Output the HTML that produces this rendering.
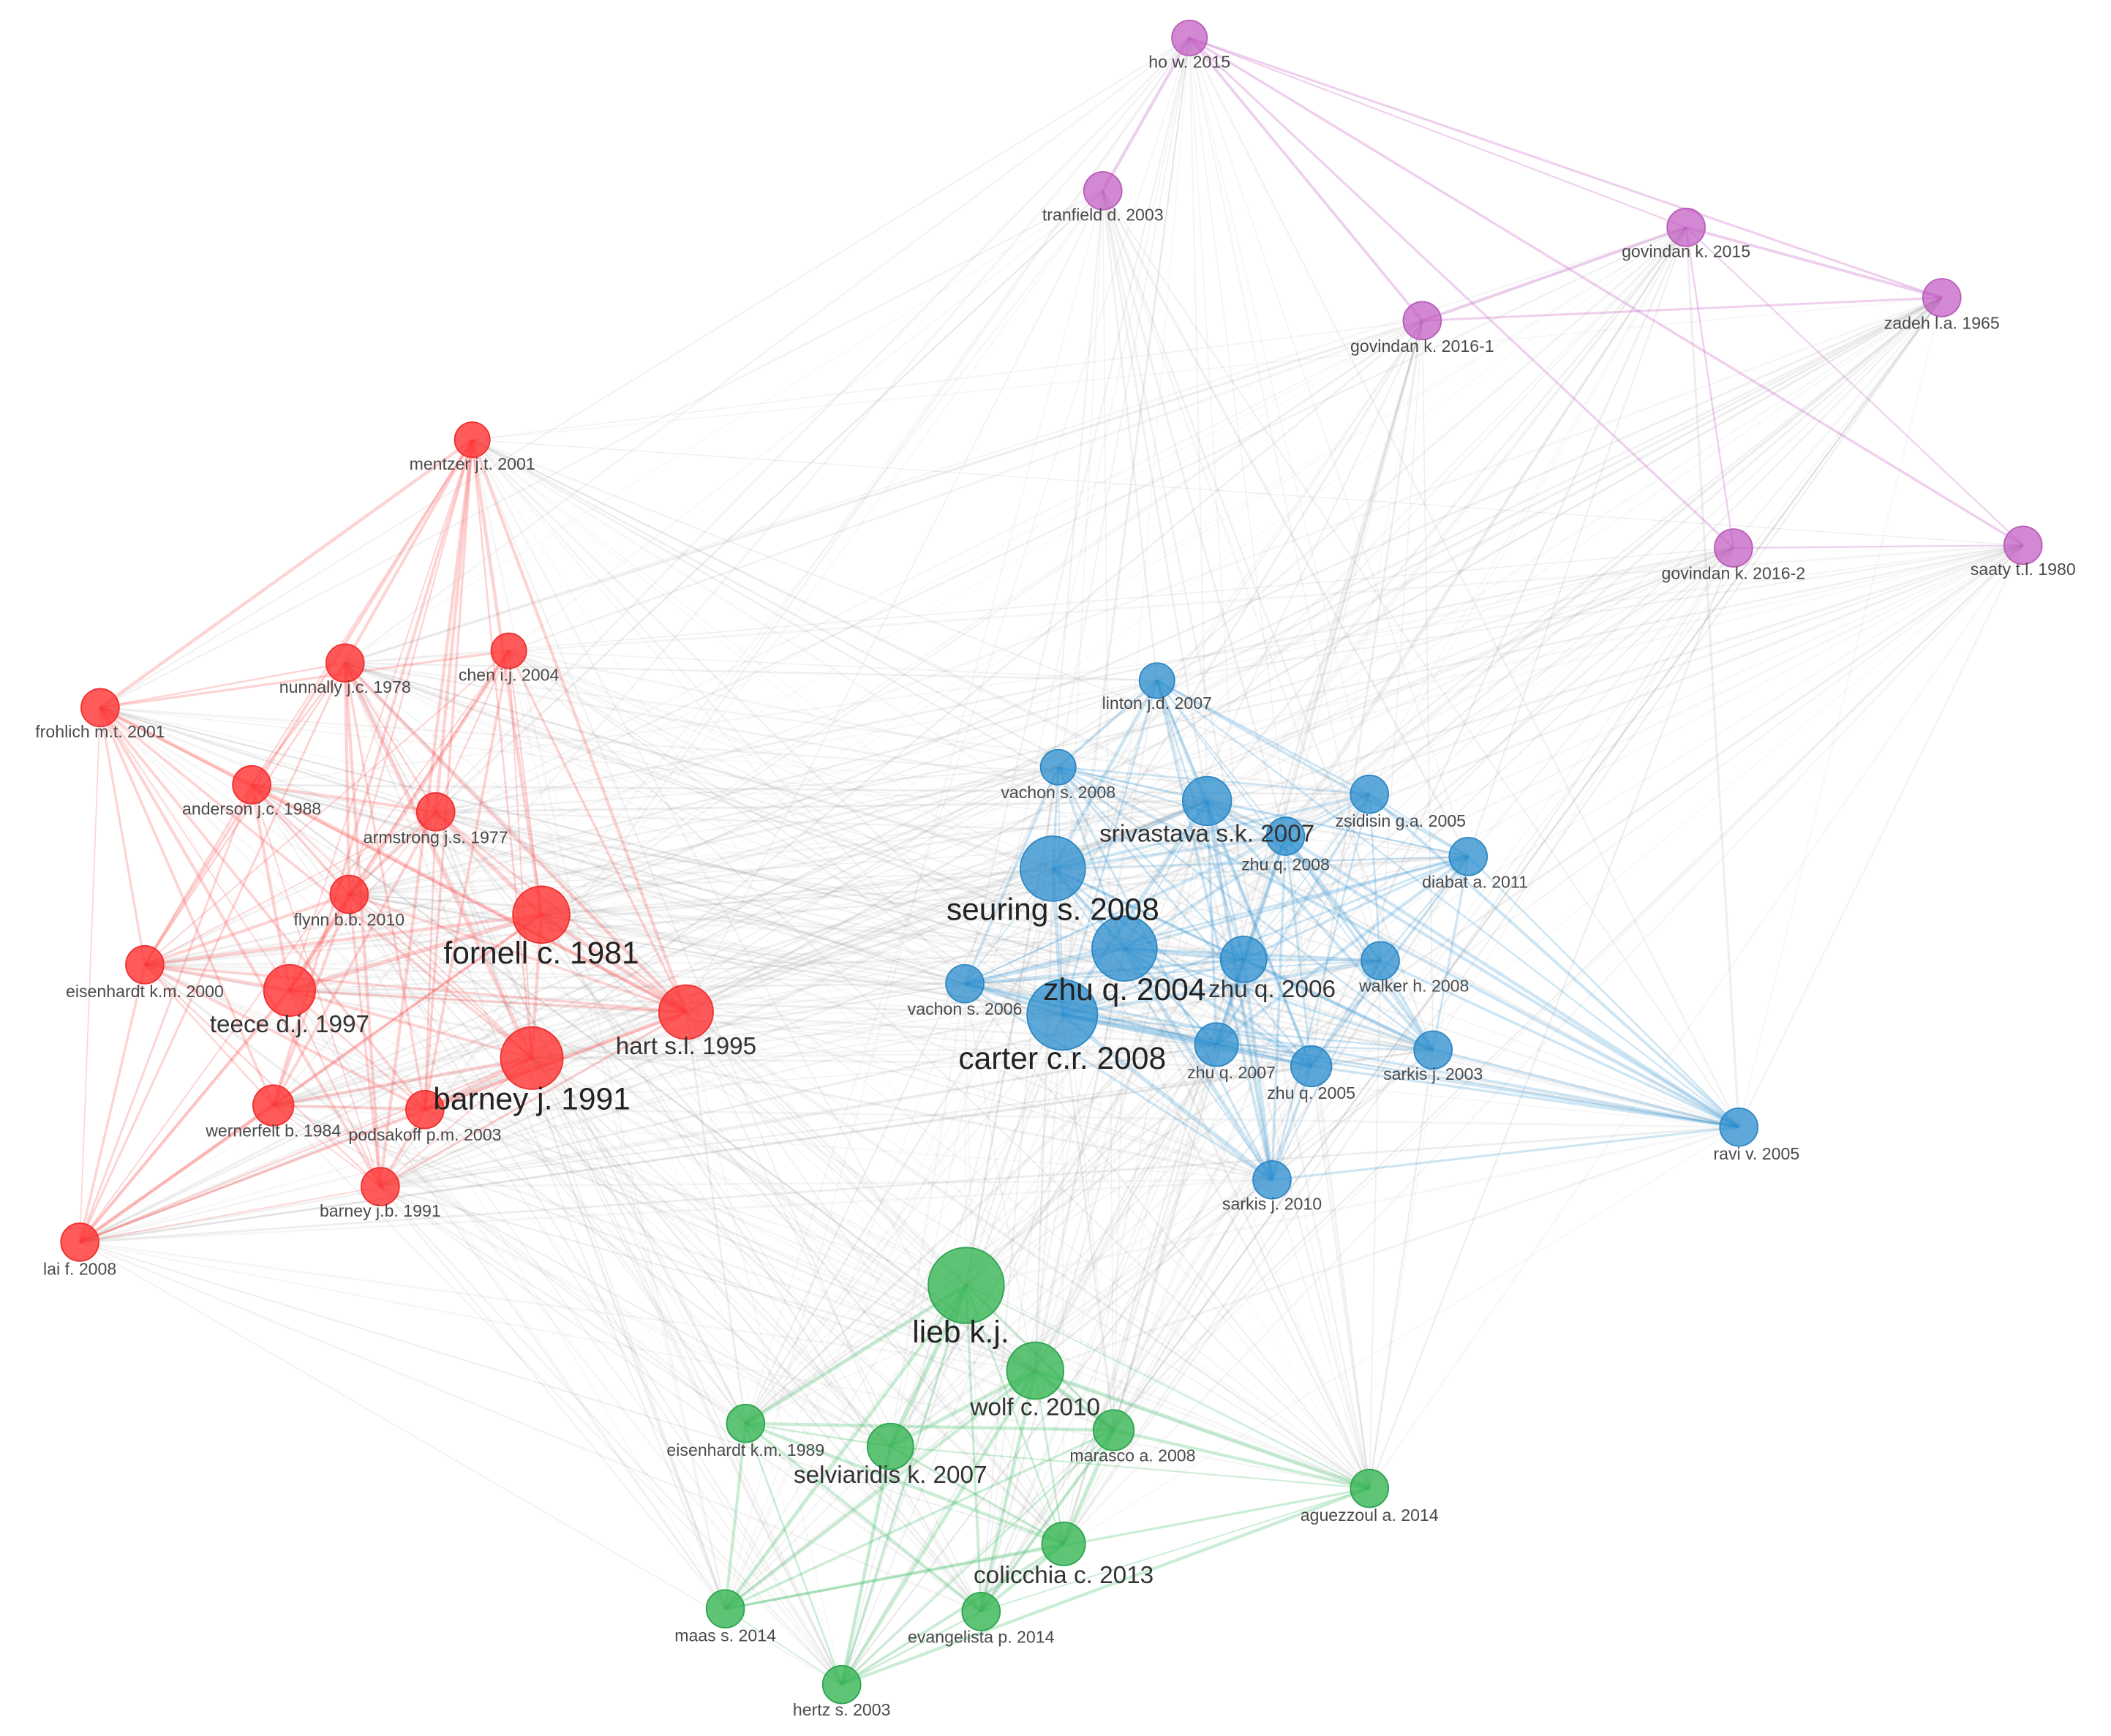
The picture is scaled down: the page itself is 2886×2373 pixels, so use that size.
<!DOCTYPE html>
<html><head><meta charset="utf-8"><style>
html,body{margin:0;padding:0;background:#fff;}
svg{display:block;}
text{font-family:"Liberation Sans",sans-serif;}
.s{font-size:12.5px;fill:#4a4a4a;text-anchor:middle;}
.m{font-size:18px;fill:#333;text-anchor:middle;}
.l{font-size:23px;fill:#222;text-anchor:middle;}
</style></head><body>
<svg id="g" width="2886" height="2373" viewBox="0 0 1560 1283" preserveAspectRatio="none" xmlns="http://www.w3.org/2000/svg">
<g id="edges"></g>
<g id="nodes"></g>
<g id="labels">
<text class="s" x="879" y="50">ho w. 2015</text>
<text class="s" x="815" y="163">tranfield d. 2003</text>
<text class="s" x="1246" y="190">govindan k. 2015</text>
<text class="s" x="1435" y="243">zadeh l.a. 1965</text>
<text class="s" x="1051" y="260">govindan k. 2016-1</text>
<text class="s" x="1281" y="428">govindan k. 2016-2</text>
<text class="s" x="1495" y="425">saaty t.l. 1980</text>
<text class="s" x="349" y="347">mentzer j.t. 2001</text>
<text class="s" x="255" y="512">nunnally j.c. 1978</text>
<text class="s" x="376" y="503">chen i.j. 2004</text>
<text class="s" x="74" y="545">frohlich m.t. 2001</text>
<text class="s" x="186" y="602">anderson j.c. 1988</text>
<text class="s" x="322" y="623">armstrong j.s. 1977</text>
<text class="s" x="258" y="684">flynn b.b. 2010</text>
<text class="l" x="400" y="712">fornell c. 1981</text>
<text class="s" x="107" y="737">eisenhardt k.m. 2000</text>
<text class="m" x="214" y="763">teece d.j. 1997</text>
<text class="m" x="507" y="779">hart s.l. 1995</text>
<text class="l" x="393" y="820">barney j. 1991</text>
<text class="s" x="202" y="840">wernerfelt b. 1984</text>
<text class="s" x="314" y="843">podsakoff p.m. 2003</text>
<text class="s" x="281" y="899">barney j.b. 1991</text>
<text class="s" x="59" y="942">lai f. 2008</text>
<text class="s" x="855" y="524">linton j.d. 2007</text>
<text class="s" x="782" y="590">vachon s. 2008</text>
<text class="m" x="892" y="622">srivastava s.k. 2007</text>
<text class="s" x="1035" y="611">zsidisin g.a. 2005</text>
<text class="s" x="950" y="643">zhu q. 2008</text>
<text class="s" x="1090" y="656">diabat a. 2011</text>
<text class="l" x="778" y="680">seuring s. 2008</text>
<text class="l" x="831" y="739">zhu q. 2004</text>
<text class="m" x="940" y="737">zhu q. 2006</text>
<text class="s" x="1045" y="733">walker h. 2008</text>
<text class="s" x="713" y="750">vachon s. 2006</text>
<text class="l" x="785" y="790">carter c.r. 2008</text>
<text class="s" x="910" y="797">zhu q. 2007</text>
<text class="s" x="969" y="812">zhu q. 2005</text>
<text class="s" x="1059" y="798">sarkis j. 2003</text>
<text class="s" x="1298" y="857">ravi v. 2005</text>
<text class="s" x="940" y="894">sarkis j. 2010</text>
<text class="l" x="710" y="992">lieb k.j.</text>
<text class="m" x="765" y="1046">wolf c. 2010</text>
<text class="s" x="551" y="1076">eisenhardt k.m. 1989</text>
<text class="m" x="658" y="1096">selviaridis k. 2007</text>
<text class="s" x="837" y="1080">marasco a. 2008</text>
<text class="s" x="1012" y="1124">aguezzoul a. 2014</text>
<text class="m" x="786" y="1170">colicchia c. 2013</text>
<text class="s" x="536" y="1213">maas s. 2014</text>
<text class="s" x="725" y="1214">evangelista p. 2014</text>
<text class="s" x="622" y="1268">hertz s. 2003</text>
</g>
</svg>
<script>
var N=[
[879,28,13,'p'],[815,141,14,'p'],[1246,168,14,'p'],[1435,220,14,'p'],[1051,237,14,'p'],[1281,405,14,'p'],[1495,403,14,'p'],
[349,325,13,'r'],[255,490,14,'r'],[376,481,13,'r'],[74,523,14,'r'],[186,580,14,'r'],[322,600,14,'r'],[258,661,14,'r'],[400,676,21,'r'],[107,713,14,'r'],[214,732,19,'r'],[507,748,20,'r'],[393,782,23,'r'],[202,817,15,'r'],[314,820,14,'r'],[281,877,14,'r'],[59,918,14,'r'],
[855,503,13,'b'],[782,567,13,'b'],[892,592,18,'b'],[1012,587,14,'b'],[950,618,14,'b'],[1085,633,14,'b'],[778,642,24,'b'],[831,701,24,'b'],[919,709,17,'b'],[1020,710,14,'b'],[713,727,14,'b'],[785,750,26,'b'],[899,772,16,'b'],[969,788,15,'b'],[1059,776,14,'b'],[1285,833,14,'b'],[940,872,14,'b'],
[714,950,28,'g'],[765,1013,21,'g'],[551,1052,14,'g'],[658,1069,17,'g'],[823,1057,15,'g'],[1012,1100,14,'g'],[786,1141,16,'g'],[536,1189,14,'g'],[725,1191,14,'g'],[622,1245,14,'g']];
var C={p:['rgba(200,100,200,0.3)','rgba(190,80,190,0.68)','#b760b7'],r:['rgba(250,80,80,0.25)','rgba(255,45,45,0.78)','#f03030'],b:['rgba(60,150,210,0.25)','rgba(40,140,205,0.75)','#2f88c3'],g:['rgba(60,190,100,0.27)','rgba(50,180,80,0.78)','#2da550']};
var ns='http://www.w3.org/2000/svg',E=document.getElementById('edges'),Nd=document.getElementById('nodes');
var seed=7;function rnd(){seed=(seed*16807)%2147483647;return seed/2147483647;}
function line(a,b,col,w){var l=document.createElementNS(ns,'line');l.setAttribute('x1',a[0]);l.setAttribute('y1',a[1]);l.setAttribute('x2',b[0]);l.setAttribute('y2',b[1]);l.setAttribute('stroke',col);l.setAttribute('stroke-width',w);E.appendChild(l);}
var gray=[],col=[];
for(var i=0;i<N.length;i++)for(var j=i+1;j<N.length;j++){
 var a=N[i],b=N[j];
 if(a[3]==b[3]){ if(rnd()<0.8) col.push([a,b,C[a[3]][0],0.8+rnd()*1.8*((a[2]+b[2])/30)]);}
 else { if(rnd()<0.55) gray.push([a,b,'rgba(140,140,140,'+(0.06+rnd()*0.09).toFixed(3)+')',0.6+rnd()*1.1]);}
}
gray.forEach(function(e){line(e[0],e[1],e[2],e[3]);});
col.forEach(function(e){line(e[0],e[1],e[2],e[3]);});
N.forEach(function(n){var c=document.createElementNS(ns,'circle');c.setAttribute('cx',n[0]);c.setAttribute('cy',n[1]);c.setAttribute('r',n[2]);c.setAttribute('fill',C[n[3]][1]);c.setAttribute('stroke',C[n[3]][2]);c.setAttribute('stroke-width',1);Nd.appendChild(c);});
</script>
</body></html>
